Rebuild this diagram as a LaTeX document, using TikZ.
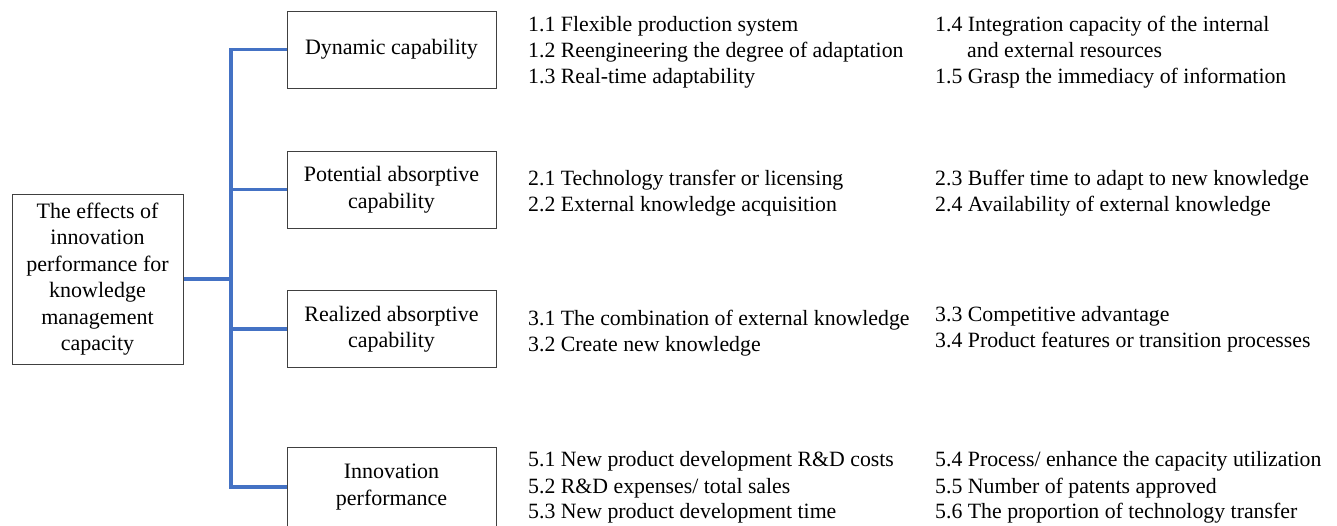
\documentclass[tikz,border=0pt]{standalone}
\usepackage{fontspec}
\setmainfont{Liberation Serif}
\definecolor{lnblue}{RGB}{68,114,196}
\begin{document}
\begin{tikzpicture}[x=1pt,y=-1pt,
  box/.style={draw=black!75, line width=1pt, minimum width=209pt, minimum height=77pt,
    inner sep=0pt, align=center, font=\fontsize{22}{26.5}\selectfont},
  item/.style={anchor=base west, inner sep=0pt, font=\fontsize{21.8}{26}\selectfont},
  link/.style={draw=lnblue, line width=3.5pt, line join=miter}]
\useasboundingbox (0,0) rectangle (1337,525);

% boxes
\node[box, minimum width=171pt, minimum height=170pt] (main) at (97.5,279)
  {The effects of\\innovation\\performance for\\knowledge\\management\\capacity};
\node[box] (dyn)  at (391.5,49.5)  {Dynamic capability};
\node[box] (pot)  at (391.5,189.5) {Potential absorptive\\capability};
\node[box] (real) at (391.5,329)   {Realized absorptive\\capability};
\node[box, minimum height=80pt] (inn) at (391.5,487) {Innovation\\performance};

% connectors
\coordinate (tr) at (231,0);
\draw[link] (dyn.west) -- (dyn.west -| tr) -- (inn.west -| tr) -- (inn.west);
\draw[link] (pot.west) -- (pot.west -| tr);
\draw[link] (real.west) -- (real.west -| tr);
\draw[link] (main.east) -- (main.east -| tr);

% group 1
\node[item] (t11) at (528,31) {1.1 Flexible production system};
\node[item] (t12) at (528,57) {1.2 Reengineering the degree of adaptation};
\node[item] (t13) at (528,83) {1.3 Real-time adaptability};
\node[item] (t14) at (935,31) {1.4 Integration capacity of the internal};
\node[item] (t14b) at (967,57) {and external resources};
\node[item] (t15) at (935,83) {1.5 Grasp the immediacy of information};

% group 2
\node[item] (t21) at (528,185) {2.1 Technology transfer or licensing};
\node[item] (t22) at (528,211) {2.2 External knowledge acquisition};
\node[item] (t23) at (935,185) {2.3 Buffer time to adapt to new knowledge};
\node[item] (t24) at (935,211) {2.4 Availability of external knowledge};

% group 3
\node[item] (t31) at (528,325) {3.1 The combination of external knowledge};
\node[item] (t32) at (528,351) {3.2 Create new knowledge};
\node[item] (t33) at (935,321) {3.3 Competitive advantage};
\node[item] (t34) at (935,347) {3.4 Product features or transition processes};

% group 5
\node[item] (t51) at (528,466) {5.1 New product development R\&D costs};
\node[item] (t52) at (528,493) {5.2 R\&D expenses/ total sales};
\node[item] (t53) at (528,518) {5.3 New product development time};
\node[item] (t54) at (935,466) {5.4 Process/ enhance the capacity utilization};
\node[item] (t55) at (935,493) {5.5 Number of patents approved};
\node[item] (t56) at (935,518) {5.6 The proportion of technology transfer};
\end{tikzpicture}
\end{document}
